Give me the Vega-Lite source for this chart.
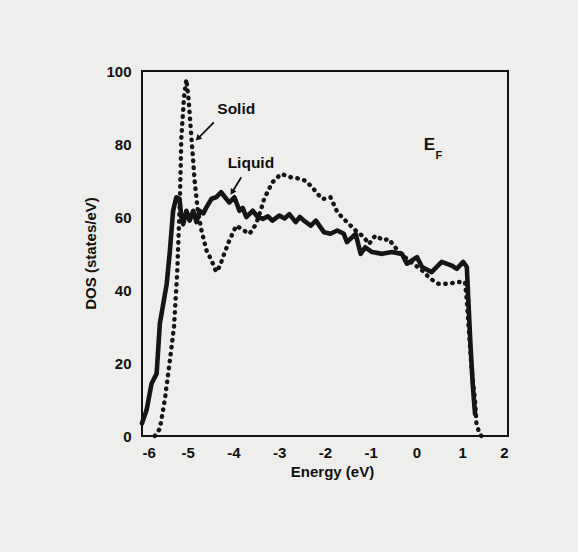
{
  "$schema": "https://vega.github.io/schema/vega-lite/v6.json",
  "width": 366,
  "height": 365,
  "autosize": "none",
  "padding": {"left": 142, "top": 71, "right": 70, "bottom": 116},
  "background": "#eeeeec",
  "config": {
    "view": {"stroke": "#111111", "strokeWidth": 2, "fill": "#eeeeec"},
    "axis": {
      "labelFont": "Liberation Sans",
      "labelFontWeight": "bold",
      "labelFontSize": 15,
      "labelColor": "#111111",
      "titleFont": "Liberation Sans",
      "titleFontWeight": "bold",
      "titleFontSize": 15,
      "titleColor": "#111111",
      "domain": false,
      "ticks": false,
      "grid": false
    }
  },
  "datasets": {
    "dos": [
      {"series": "Liquid", "energy": -6.0, "dos": 3.5},
      {"series": "Liquid", "energy": -5.9, "dos": 7.1},
      {"series": "Liquid", "energy": -5.79, "dos": 14.4},
      {"series": "Liquid", "energy": -5.68, "dos": 17.1},
      {"series": "Liquid", "energy": -5.61, "dos": 30.8},
      {"series": "Liquid", "energy": -5.46, "dos": 41.7},
      {"series": "Liquid", "energy": -5.39, "dos": 50.8},
      {"series": "Liquid", "energy": -5.32, "dos": 61.7},
      {"series": "Liquid", "energy": -5.25, "dos": 65.4},
      {"series": "Liquid", "energy": -5.18, "dos": 65.0},
      {"series": "Liquid", "energy": -5.14, "dos": 60.0},
      {"series": "Liquid", "energy": -5.1, "dos": 58.0},
      {"series": "Liquid", "energy": -5.03, "dos": 61.7},
      {"series": "Liquid", "energy": -4.96, "dos": 59.0},
      {"series": "Liquid", "energy": -4.88, "dos": 61.7},
      {"series": "Liquid", "energy": -4.81, "dos": 58.6},
      {"series": "Liquid", "energy": -4.74, "dos": 61.7},
      {"series": "Liquid", "energy": -4.66, "dos": 61.0},
      {"series": "Liquid", "energy": -4.59, "dos": 62.7},
      {"series": "Liquid", "energy": -4.48, "dos": 65.0},
      {"series": "Liquid", "energy": -4.38, "dos": 65.4},
      {"series": "Liquid", "energy": -4.27, "dos": 66.8},
      {"series": "Liquid", "energy": -4.16, "dos": 65.0},
      {"series": "Liquid", "energy": -4.09, "dos": 64.0},
      {"series": "Liquid", "energy": -3.98, "dos": 65.4},
      {"series": "Liquid", "energy": -3.87, "dos": 61.7},
      {"series": "Liquid", "energy": -3.8, "dos": 62.5},
      {"series": "Liquid", "energy": -3.72, "dos": 60.0},
      {"series": "Liquid", "energy": -3.58, "dos": 61.7},
      {"series": "Liquid", "energy": -3.47, "dos": 60.0},
      {"series": "Liquid", "energy": -3.36, "dos": 59.5},
      {"series": "Liquid", "energy": -3.25, "dos": 60.2},
      {"series": "Liquid", "energy": -3.15, "dos": 59.0},
      {"series": "Liquid", "energy": -3.0, "dos": 60.4},
      {"series": "Liquid", "energy": -2.88, "dos": 59.6},
      {"series": "Liquid", "energy": -2.78, "dos": 60.8},
      {"series": "Liquid", "energy": -2.64, "dos": 58.6},
      {"series": "Liquid", "energy": -2.55, "dos": 60.0},
      {"series": "Liquid", "energy": -2.46, "dos": 59.0},
      {"series": "Liquid", "energy": -2.31, "dos": 57.6},
      {"series": "Liquid", "energy": -2.2, "dos": 59.0},
      {"series": "Liquid", "energy": -2.02, "dos": 55.8},
      {"series": "Liquid", "energy": -1.88, "dos": 55.4},
      {"series": "Liquid", "energy": -1.73, "dos": 56.3},
      {"series": "Liquid", "energy": -1.59, "dos": 55.4},
      {"series": "Liquid", "energy": -1.52, "dos": 53.1},
      {"series": "Liquid", "energy": -1.33, "dos": 55.4},
      {"series": "Liquid", "energy": -1.22, "dos": 49.9},
      {"series": "Liquid", "energy": -1.12, "dos": 51.7},
      {"series": "Liquid", "energy": -0.97, "dos": 50.4},
      {"series": "Liquid", "energy": -0.75, "dos": 49.9},
      {"series": "Liquid", "energy": -0.54, "dos": 50.4},
      {"series": "Liquid", "energy": -0.32, "dos": 49.9},
      {"series": "Liquid", "energy": -0.21, "dos": 47.2},
      {"series": "Liquid", "energy": 0.01, "dos": 49.0},
      {"series": "Liquid", "energy": 0.12, "dos": 46.3},
      {"series": "Liquid", "energy": 0.33, "dos": 44.9},
      {"series": "Liquid", "energy": 0.55, "dos": 47.7},
      {"series": "Liquid", "energy": 0.77, "dos": 46.7},
      {"series": "Liquid", "energy": 0.88, "dos": 45.8},
      {"series": "Liquid", "energy": 1.02, "dos": 47.7},
      {"series": "Liquid", "energy": 1.1, "dos": 46.3},
      {"series": "Liquid", "energy": 1.13, "dos": 38.0},
      {"series": "Liquid", "energy": 1.18, "dos": 25.0},
      {"series": "Liquid", "energy": 1.23, "dos": 14.0},
      {"series": "Liquid", "energy": 1.28, "dos": 6.0},
      {"series": "Solid", "energy": -5.72, "dos": 0.0},
      {"series": "Solid", "energy": -5.61, "dos": 2.0},
      {"series": "Solid", "energy": -5.5, "dos": 10.0},
      {"series": "Solid", "energy": -5.39, "dos": 20.8},
      {"series": "Solid", "energy": -5.3, "dos": 30.0},
      {"series": "Solid", "energy": -5.23, "dos": 45.0},
      {"series": "Solid", "energy": -5.2, "dos": 55.0},
      {"series": "Solid", "energy": -5.17, "dos": 65.4},
      {"series": "Solid", "energy": -5.14, "dos": 81.8},
      {"series": "Solid", "energy": -5.08, "dos": 93.0},
      {"series": "Solid", "energy": -5.03, "dos": 97.7},
      {"series": "Solid", "energy": -4.98, "dos": 92.0},
      {"series": "Solid", "energy": -4.92, "dos": 81.8},
      {"series": "Solid", "energy": -4.85, "dos": 70.0},
      {"series": "Solid", "energy": -4.78, "dos": 61.7},
      {"series": "Solid", "energy": -4.7, "dos": 56.3},
      {"series": "Solid", "energy": -4.59, "dos": 50.8},
      {"series": "Solid", "energy": -4.48, "dos": 48.1},
      {"series": "Solid", "energy": -4.38, "dos": 45.0},
      {"series": "Solid", "energy": -4.3, "dos": 46.5},
      {"series": "Solid", "energy": -4.23, "dos": 49.0},
      {"series": "Solid", "energy": -4.09, "dos": 53.6},
      {"series": "Solid", "energy": -3.94, "dos": 57.6},
      {"series": "Solid", "energy": -3.8, "dos": 56.5},
      {"series": "Solid", "energy": -3.65, "dos": 55.4},
      {"series": "Solid", "energy": -3.51, "dos": 58.0},
      {"series": "Solid", "energy": -3.4, "dos": 62.0},
      {"series": "Solid", "energy": -3.33, "dos": 65.0},
      {"series": "Solid", "energy": -3.15, "dos": 69.5},
      {"series": "Solid", "energy": -2.96, "dos": 71.8},
      {"series": "Solid", "energy": -2.75, "dos": 70.9},
      {"series": "Solid", "energy": -2.55, "dos": 70.5},
      {"series": "Solid", "energy": -2.42, "dos": 69.9},
      {"series": "Solid", "energy": -2.28, "dos": 68.1},
      {"series": "Solid", "energy": -2.06, "dos": 64.9},
      {"series": "Solid", "energy": -1.88, "dos": 65.4},
      {"series": "Solid", "energy": -1.73, "dos": 61.3},
      {"series": "Solid", "energy": -1.52, "dos": 58.6},
      {"series": "Solid", "energy": -1.33, "dos": 56.3},
      {"series": "Solid", "energy": -1.15, "dos": 54.5},
      {"series": "Solid", "energy": -1.04, "dos": 52.6},
      {"series": "Solid", "energy": -0.9, "dos": 54.9},
      {"series": "Solid", "energy": -0.72, "dos": 53.6},
      {"series": "Solid", "energy": -0.61, "dos": 54.0},
      {"series": "Solid", "energy": -0.5, "dos": 52.2},
      {"series": "Solid", "energy": -0.35, "dos": 50.0},
      {"series": "Solid", "energy": -0.17, "dos": 48.1},
      {"series": "Solid", "energy": 0.12, "dos": 45.4},
      {"series": "Solid", "energy": 0.3, "dos": 43.1},
      {"series": "Solid", "energy": 0.48, "dos": 41.7},
      {"series": "Solid", "energy": 0.7, "dos": 41.7},
      {"series": "Solid", "energy": 0.91, "dos": 42.2},
      {"series": "Solid", "energy": 1.06, "dos": 42.2},
      {"series": "Solid", "energy": 1.1, "dos": 37.0},
      {"series": "Solid", "energy": 1.15, "dos": 28.0},
      {"series": "Solid", "energy": 1.2, "dos": 18.9},
      {"series": "Solid", "energy": 1.28, "dos": 9.8},
      {"series": "Solid", "energy": 1.31, "dos": 3.5},
      {"series": "Solid", "energy": 1.38, "dos": 0.5},
      {"series": "Solid", "energy": 1.42, "dos": 0.0}
    ],
    "labels": [
      {"label": "Solid", "energy": -3.94, "dos": 89.7},
      {"label": "Liquid", "energy": -3.62, "dos": 74.7}
    ],
    "arrows": [
      {"label": "Solid", "energy": -4.43, "dos": 85.9, "energy2": -4.78, "dos2": 81.5},
      {"label": "Liquid", "energy": -3.83, "dos": 70.9, "energy2": -4.03, "dos2": 66.8}
    ]
  },
  "encoding": {
    "x": {
      "field": "energy", "type": "quantitative",
      "scale": {"domain": [-6, 2], "nice": false, "zero": false},
      "axis": {"values": [-6, -5, -4, -3, -2, -1, 0, 1, 2], "labelExpr": "datum.value < 0 ? '-' + abs(datum.value) : '' + datum.value", "labelPadding": 9, "title": "Energy (eV)", "titleX": 190, "titleY": 35, "titleBaseline": "middle"}
    },
    "y": {
      "field": "dos", "type": "quantitative",
      "scale": {"domain": [0, 100], "nice": false},
      "axis": {"values": [0, 20, 40, 60, 80, 100], "labelPadding": 11, "title": "DOS (states/eV)", "titleX": -52, "titleY": 182, "titleBaseline": "middle", "titleAngle": -90}
    }
  },
  "layer": [
    {
      "mark": {"type": "rule", "stroke": "#c4c4c4", "strokeWidth": 1, "strokeDash": [2, 3]},
      "encoding": {"x": {"datum": 0}, "y": null}
    },
    {
      "data": {"name": "dos"},
      "transform": [{"filter": "datum.series === 'Liquid'"}],
      "mark": {"type": "line", "stroke": "#151515", "strokeWidth": 4.6, "strokeJoin": "round", "strokeCap": "round"}
    },
    {
      "data": {"name": "dos"},
      "transform": [{"filter": "datum.series === 'Solid'"}],
      "mark": {"type": "line", "stroke": "#151515", "strokeWidth": 4.4, "strokeDash": [0.5, 6.5], "strokeCap": "round", "strokeJoin": "round"}
    },
    {
      "data": {"name": "labels"},
      "mark": {"type": "text", "font": "Liberation Sans", "fontWeight": "bold", "fontSize": 15.5, "color": "#111111", "align": "center", "baseline": "middle"},
      "encoding": {"text": {"field": "label"}}
    },
    {
      "data": {"name": "arrows"},
      "mark": {"type": "rule", "stroke": "#111111", "strokeWidth": 1.8},
      "encoding": {"x2": {"field": "energy2"}, "y2": {"field": "dos2"}}
    },
    {
      "data": {"name": "arrows"},
      "transform": [{"filter": "datum.label === 'Solid'"}],
      "mark": {"type": "point", "shape": "triangle-up", "filled": true, "color": "#111111", "size": 45, "angle": 225, "opacity": 1},
      "encoding": {"x": {"field": "energy2", "type": "quantitative"}, "y": {"field": "dos2", "type": "quantitative"}}
    },
    {
      "data": {"name": "arrows"},
      "transform": [{"filter": "datum.label === 'Liquid'"}],
      "mark": {"type": "point", "shape": "triangle-up", "filled": true, "color": "#111111", "size": 45, "angle": 211, "opacity": 1},
      "encoding": {"x": {"field": "energy2", "type": "quantitative"}, "y": {"field": "dos2", "type": "quantitative"}}
    },
    {
      "data": {"values": [{"t": "E", "energy": 0.28, "dos": 79.8}]},
      "mark": {"type": "text", "font": "Liberation Sans", "fontWeight": "bold", "fontSize": 17, "color": "#111111", "align": "center", "baseline": "middle"},
      "encoding": {"text": {"field": "t"}}
    },
    {
      "data": {"values": [{"t": "F", "energy": 0.49, "dos": 76.6}]},
      "mark": {"type": "text", "font": "Liberation Sans", "fontWeight": "bold", "fontSize": 11, "color": "#111111", "align": "center", "baseline": "middle"},
      "encoding": {"text": {"field": "t"}}
    }
  ]
}
